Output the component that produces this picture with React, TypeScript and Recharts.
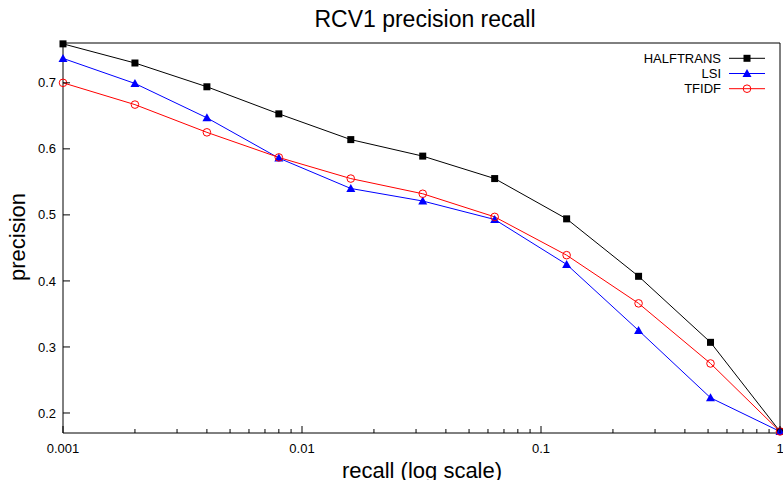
import { Line, LineChart, XAxis, YAxis } from "recharts"

const RECALL = [0.001, 0.002, 0.004, 0.008, 0.016, 0.032, 0.064, 0.128, 0.256, 0.512, 1]
const HALFTRANS = [0.759, 0.73, 0.694, 0.653, 0.614, 0.589, 0.555, 0.494, 0.407, 0.307, 0.172]
const LSI = [0.737, 0.699, 0.647, 0.586, 0.54, 0.521, 0.493, 0.425, 0.325, 0.223, 0.172]
const TFIDF = [0.7, 0.667, 0.625, 0.587, 0.555, 0.532, 0.497, 0.439, 0.366, 0.275, 0.172]

const X_MAJOR = [0.001, 0.01, 0.1, 1]
const Y_TICKS = [0.2, 0.3, 0.4, 0.5, 0.6, 0.7]

const SERIES = [
  { key: "halftrans", name: "HALFTRANS", color: "#000000", marker: "square" },
  { key: "lsi", name: "LSI", color: "#0000ff", marker: "triangle" },
  { key: "tfidf", name: "TFIDF", color: "#ff0000", marker: "circle" },
]

const data = RECALL.map((r, i) => ({ recall: r, halftrans: HALFTRANS[i], lsi: LSI[i], tfidf: TFIDF[i] }))

// major ticks plus 2..9 minors per decade
const xTicks: number[] = []
X_MAJOR.forEach((d, i) => {
  xTicks.push(d)
  if (i < X_MAJOR.length - 1) for (let m = 2; m <= 9; m++) xTicks.push(d * m)
})

const FONT = "'Liberation Sans', Arial, sans-serif"

function isMajor(v: number) {
  const l = Math.log10(v)
  return Math.abs(l - Math.round(l)) < 1e-6
}

function Marker({ type, cx, cy, color }: { type: string; cx: number; cy: number; color: string }) {
  if (type === "square") return <rect x={cx - 3.5} y={cy - 3.5} width={7} height={7} fill={color} />
  if (type === "triangle")
    return <polygon points={`${cx},${cy - 4.5} ${cx - 4.5},${cy + 3.5} ${cx + 4.5},${cy + 3.5}`} fill={color} />
  return <circle cx={cx} cy={cy} r={3.8} fill="none" stroke={color} strokeWidth={1} />
}

function BottomTick({ x, y, payload }: any) {
  const major = isMajor(payload.value)
  return (
    <g>
      <line x1={x} y1={y} x2={x} y2={y - (major ? 7 : 4)} stroke="#000" />
      {major && (
        <text x={x} y={y + 20} textAnchor="middle" fontSize={13} fill="#000">
          {String(payload.value)}
        </text>
      )}
    </g>
  )
}

function TopTick({ x, y, payload }: any) {
  const major = isMajor(payload.value)
  return <line x1={x} y1={y} x2={x} y2={y + (major ? 7 : 4)} stroke="#000" />
}

function LeftTick({ x, y, payload }: any) {
  return (
    <g>
      <line x1={x} y1={y} x2={x + 7} y2={y} stroke="#000" />
      <text x={x - 7} y={y + 4.6} textAnchor="end" fontSize={13} fill="#000">
        {String(payload.value)}
      </text>
    </g>
  )
}

function RightTick({ x, y }: any) {
  return <line x1={x} y1={y} x2={x - 7} y2={y} stroke="#000" />
}

export default function App() {
  return (
    <div style={{ position: "absolute", left: 0, top: 0, width: 783, height: 480, fontFamily: FONT, background: "#fff" }}>
      <LineChart width={783} height={480} data={data} margin={{ top: 42, right: 2, bottom: 17, left: 23 }}>
        <XAxis
          dataKey="recall"
          type="number"
          scale="log"
          domain={[0.001, 1]}
          ticks={xTicks}
          interval={0}
          height={30}
          tickSize={0}
          tickMargin={0}
          tickLine={false}
          axisLine={{ stroke: "#000" }}
          tick={BottomTick}
        />
        <XAxis
          xAxisId="top"
          orientation="top"
          type="number"
          scale="log"
          domain={[0.001, 1]}
          ticks={xTicks}
          interval={0}
          height={1}
          tickSize={0}
          tickMargin={0}
          tickLine={false}
          axisLine={{ stroke: "#000" }}
          tick={TopTick}
        />
        <YAxis
          type="number"
          domain={[0.1697, 0.7603]}
          ticks={Y_TICKS}
          interval={0}
          width={40}
          tickSize={0}
          tickMargin={0}
          tickLine={false}
          axisLine={{ stroke: "#000" }}
          tick={LeftTick}
        />
        <YAxis
          yAxisId="r"
          orientation="right"
          type="number"
          domain={[0.1697, 0.7603]}
          ticks={Y_TICKS}
          interval={0}
          width={1}
          tickSize={0}
          tickMargin={0}
          tickLine={false}
          axisLine={{ stroke: "#000" }}
          tick={RightTick}
        />
        {SERIES.map((s) => (
          <Line
            key={s.key}
            dataKey={s.key}
            name={s.name}
            stroke={s.color}
            strokeWidth={1}
            isAnimationActive={false}
            activeDot={false}
            dot={(p: any) => <Marker key={p.index} type={s.marker} cx={p.cx} cy={p.cy} color={s.color} />}
          />
        ))}
      </LineChart>
      <svg width={783} height={480} style={{ position: "absolute", left: 0, top: 0, pointerEvents: "none" }}>
        <text x={425} y={27} textAnchor="middle" fontSize={23} fill="#000">
          RCV1 precision recall
        </text>
        <text x={24.5} y={237} textAnchor="middle" fontSize={22} fill="#000" transform="rotate(-90 24.5 237)">
          precision
        </text>
        <text x={422} y={478} textAnchor="middle" fontSize={22} fill="#000">
          recall (log scale)
        </text>
        {SERIES.map((s, i) => {
          const cy = 58.3 + i * 15.2
          return (
            <g key={s.key}>
              <text x={721} y={cy + 4.6} textAnchor="end" fontSize={13} fill="#000">
                {s.name}
              </text>
              <line x1={729} y1={cy} x2={765} y2={cy} stroke={s.color} strokeWidth={1} />
              <Marker type={s.marker} cx={747} cy={cy} color={s.color} />
            </g>
          )
        })}
      </svg>
    </div>
  )
}
